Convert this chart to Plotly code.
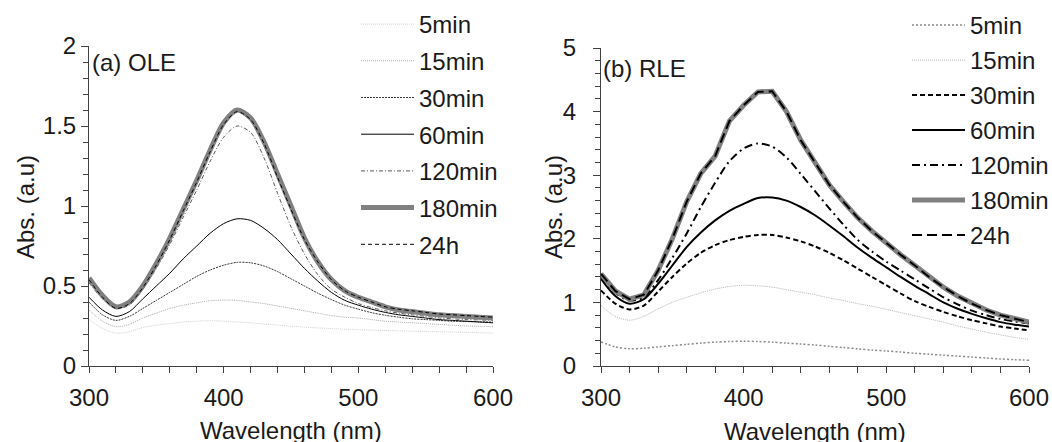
import plotly.graph_objects as go

# ---------------- data ----------------
wavelength = list(range(300, 601, 10))
series_names = ["5min", "15min", "30min", "60min", "120min", "180min", "24h"]

# (a) OLE
ole_5min = [0.29, 0.235, 0.205, 0.215, 0.24, 0.255, 0.265, 0.275, 0.28, 0.283, 0.28, 0.275, 0.27, 0.262,
            0.255, 0.248, 0.243, 0.238, 0.234, 0.23, 0.227, 0.224, 0.222, 0.22, 0.218, 0.216, 0.214, 0.212,
            0.21, 0.208, 0.205]
ole_15min = [0.35, 0.28, 0.246, 0.26, 0.30, 0.33, 0.36, 0.38, 0.395, 0.408, 0.412, 0.41, 0.40, 0.39,
             0.375, 0.36, 0.345, 0.33, 0.315, 0.305, 0.30, 0.29, 0.28, 0.275, 0.27, 0.265, 0.26, 0.255,
             0.25, 0.248, 0.246]
ole_30min = [0.40, 0.32, 0.285, 0.31, 0.36, 0.41, 0.46, 0.51, 0.56, 0.60, 0.63, 0.648, 0.645, 0.625,
             0.59, 0.545, 0.50, 0.455, 0.415, 0.38, 0.355, 0.333, 0.317, 0.305, 0.295, 0.29, 0.285, 0.28,
             0.278, 0.276, 0.275]
ole_60min = [0.43, 0.35, 0.31, 0.34, 0.42, 0.50, 0.58, 0.67, 0.75, 0.83, 0.89, 0.92, 0.91, 0.86,
             0.79, 0.70, 0.61, 0.53, 0.46, 0.41, 0.38, 0.355, 0.335, 0.32, 0.31, 0.30, 0.29, 0.285,
             0.28, 0.275, 0.27]
ole_120min = [0.52, 0.42, 0.36, 0.38, 0.48, 0.61, 0.76, 0.93, 1.10, 1.28, 1.43, 1.50, 1.46, 1.30,
              1.08, 0.87, 0.70, 0.57, 0.48, 0.43, 0.39, 0.365, 0.345, 0.33, 0.32, 0.31, 0.30, 0.295,
              0.29, 0.288, 0.285]
ole_180min = [0.55, 0.44, 0.37, 0.40, 0.50, 0.64, 0.80, 0.98, 1.16, 1.35, 1.52, 1.60, 1.55, 1.40,
              1.20, 1.00, 0.80, 0.65, 0.54, 0.47, 0.43, 0.40, 0.37, 0.35, 0.34, 0.33, 0.32, 0.315,
              0.31, 0.305, 0.30]
ole_24h = [0.54, 0.43, 0.36, 0.39, 0.49, 0.63, 0.79, 0.97, 1.15, 1.34, 1.51, 1.59, 1.54, 1.39,
           1.18, 0.98, 0.79, 0.65, 0.54, 0.47, 0.43, 0.40, 0.37, 0.355, 0.345, 0.335, 0.325, 0.32,
           0.315, 0.31, 0.305]

# (b) RLE
rle_5min = [0.38, 0.30, 0.27, 0.28, 0.30, 0.32, 0.34, 0.36, 0.375, 0.385, 0.39, 0.385, 0.375, 0.36,
            0.345, 0.33, 0.31, 0.29, 0.27, 0.25, 0.235, 0.22, 0.20, 0.185, 0.17, 0.155, 0.14, 0.125,
            0.11, 0.10, 0.09]
rle_15min = [0.95, 0.78, 0.72, 0.78, 0.90, 1.00, 1.08, 1.15, 1.21, 1.25, 1.27, 1.26, 1.24, 1.20,
             1.16, 1.12, 1.07, 1.03, 0.98, 0.94, 0.89, 0.84, 0.79, 0.74, 0.69, 0.63, 0.58, 0.53,
             0.49, 0.45, 0.42]
rle_30min = [1.19, 0.98, 0.89, 0.95, 1.17, 1.40, 1.61, 1.78, 1.90, 1.98, 2.03, 2.06, 2.06, 2.02,
             1.96, 1.88, 1.78, 1.66, 1.53, 1.40, 1.27, 1.14, 1.02, 0.93, 0.85, 0.78, 0.72, 0.67,
             0.62, 0.59, 0.56]
rle_60min = [1.37, 1.10, 0.98, 1.05, 1.29, 1.58, 1.87, 2.10, 2.29, 2.44, 2.55, 2.64, 2.65, 2.60,
             2.50, 2.37, 2.21, 2.04, 1.86, 1.70, 1.55, 1.40, 1.26, 1.13, 1.00, 0.90, 0.82, 0.75,
             0.69, 0.65, 0.62]
rle_120min = [1.40, 1.15, 1.03, 1.08, 1.35, 1.70, 2.08, 2.50, 2.88, 3.22, 3.42, 3.50, 3.45, 3.28,
              3.02, 2.75, 2.48, 2.22, 1.98, 1.80, 1.64, 1.50, 1.36, 1.22, 1.08, 0.97, 0.87, 0.80,
              0.74, 0.70, 0.67]
rle_180min = [1.45, 1.18, 1.05, 1.12, 1.50, 2.00, 2.58, 3.03, 3.30, 3.85, 4.10, 4.31, 4.32, 4.00,
              3.55, 3.20, 2.85, 2.58, 2.33, 2.12, 1.93, 1.75, 1.58, 1.40, 1.24, 1.10, 0.98, 0.88,
              0.80, 0.74, 0.69]
rle_24h = [1.45, 1.18, 1.05, 1.12, 1.50, 2.00, 2.58, 3.03, 3.30, 3.85, 4.10, 4.31, 4.32, 4.00,
           3.55, 3.20, 2.85, 2.58, 2.33, 2.12, 1.93, 1.75, 1.58, 1.40, 1.24, 1.10, 0.98, 0.88,
           0.80, 0.74, 0.69]

ole_values = [ole_5min, ole_15min, ole_30min, ole_60min, ole_120min, ole_180min, ole_24h]
rle_values = [rle_5min, rle_15min, rle_30min, rle_60min, rle_120min, rle_180min, rle_24h]

# ---------------- styles ----------------
FONT = "Liberation Sans, Arial, sans-serif"
ole_styles = [
    dict(color="#d2d2d2", width=1, dash="1px,1px"),
    dict(color="#ababab", width=1, dash="1px,1px"),
    dict(color="#3a3a3a", width=1, dash="2px,1px"),
    dict(color="#000000", width=1, dash="solid"),
    dict(color="#5a5a5a", width=1, dash="4px,2px,1px,2px"),
    dict(color="#808080", width=5, dash="solid"),
    dict(color="#000000", width=1, dash="4px,3px"),
]
rle_styles = [
    dict(color="#8c8c8c", width=1.5, dash="2px,2px"),
    dict(color="#b8b8b8", width=1, dash="1px,1px"),
    dict(color="#000000", width=2, dash="5px,3px"),
    dict(color="#000000", width=2, dash="solid"),
    dict(color="#000000", width=2, dash="8px,4px,2px,4px"),
    dict(color="#808080", width=5, dash="solid"),
    dict(color="#000000", width=2, dash="10px,5px"),
]

W, H = 1052, 442
fig = go.Figure()

for i, name in enumerate(series_names):
    fig.add_trace(go.Scatter(
        x=wavelength, y=ole_values[i], mode="lines", name=name,
        line=dict(shape="spline", smoothing=0.8, **ole_styles[i]),
        xaxis="x", yaxis="y", legend="legend", legendgroup="a" + name,
    ))
for i, name in enumerate(series_names):
    jag = name in ("180min", "24h")
    fig.add_trace(go.Scatter(
        x=wavelength, y=rle_values[i], mode="lines", name=name,
        line=dict(shape="linear" if jag else "spline", **({} if jag else {"smoothing": 0.8}), **rle_styles[i]),
        xaxis="x2", yaxis="y2", legend="legend2", legendgroup="b" + name,
    ))

axcol = "#404040"
txtcol = "#1a1a1a"

def px_x(p):
    return p / W

def px_y(p):
    return 1 - p / H

xcommon = dict(range=[300, 600], tick0=300, dtick=100, showline=True, linecolor=axcol, linewidth=1,
               ticks="outside", ticklen=6, tickwidth=1, tickcolor=axcol, showgrid=False, zeroline=False,
               automargin=False,
               tickfont=dict(size=24, family=FONT, color=txtcol), ticklabelstandoff=4,
               minor=dict(dtick=20, tick0=300, ticks="outside", ticklen=6, tickwidth=1, tickcolor=axcol,
                          showgrid=False))

fig.update_layout(
    width=W, height=H, autosize=False,
    margin=dict(l=0, r=0, t=0, b=0, autoexpand=False),
    paper_bgcolor="white", plot_bgcolor="white",
    font=dict(family=FONT, size=24, color=txtcol),
    xaxis=dict(domain=[px_x(89), px_x(493)], anchor="y", **xcommon),
    xaxis2=dict(domain=[px_x(601), px_x(1029)], anchor="y2", **xcommon),
    yaxis=dict(domain=[px_y(366), px_y(46)], anchor="x", range=[0, 2], tick0=0, dtick=0.5,
               showline=True, linecolor=axcol, linewidth=1, ticks="outside", ticklen=7, tickwidth=1,
               tickcolor=axcol, showgrid=False, zeroline=False, automargin=False,
               tickfont=dict(size=24, family=FONT, color=txtcol),
               minor=dict(dtick=0.1, tick0=0, ticks="outside", ticklen=5, tickwidth=1, tickcolor=axcol,
                          showgrid=False)),
    yaxis2=dict(domain=[px_y(366), px_y(48)], anchor="x2", range=[0, 5], tick0=0, dtick=1,
                showline=True, linecolor=axcol, linewidth=1, ticks="outside", ticklen=7, tickwidth=1,
                tickcolor=axcol, showgrid=False, zeroline=False, ticklabelstandoff=12, automargin=False,
                tickfont=dict(size=24, family=FONT, color=txtcol),
                minor=dict(dtick=0.2, tick0=0, ticks="outside", ticklen=5, tickwidth=1, tickcolor=axcol,
                           showgrid=False)),
    legend=dict(x=px_x(356), y=px_y(2), xanchor="left", yanchor="top", bgcolor="rgba(0,0,0,0)",
                font=dict(size=24, family=FONT, color=txtcol), itemwidth=53, traceorder="grouped",
                tracegroupgap=2.5, borderwidth=0),
    legend2=dict(x=px_x(907), y=px_y(3), xanchor="left", yanchor="top", bgcolor="rgba(0,0,0,0)",
                 font=dict(size=24, family=FONT, color=txtcol), itemwidth=53, traceorder="grouped",
                 tracegroupgap=0.8, borderwidth=0),
    showlegend=True,
)

ann_font = dict(size=24, family=FONT, color=txtcol)
fig.add_annotation(text="(a) OLE", x=px_x(90), y=px_y(63), xref="paper", yref="paper",
                   xanchor="left", yanchor="middle", showarrow=False, font=ann_font)
fig.add_annotation(text="(b) RLE", x=px_x(601), y=px_y(68), xref="paper", yref="paper",
                   xanchor="left", yanchor="middle", showarrow=False, font=ann_font)
fig.add_annotation(text="Abs. (a.u)", x=px_x(25), y=px_y(207), xref="paper", yref="paper",
                   textangle=-90, xanchor="center", yanchor="middle", showarrow=False, font=ann_font)
fig.add_annotation(text="Abs. (a.u)", x=px_x(553), y=px_y(207), xref="paper", yref="paper",
                   textangle=-90, xanchor="center", yanchor="middle", showarrow=False, font=ann_font)
fig.add_annotation(text="Wavelength (nm)", x=px_x(291), y=px_y(430), xref="paper", yref="paper",
                   xanchor="center", yanchor="middle", showarrow=False, font=ann_font)
fig.add_annotation(text="Wavelength (nm)", x=px_x(815), y=px_y(431), xref="paper", yref="paper",
                   xanchor="center", yanchor="middle", showarrow=False, font=ann_font)

fig.write_html("out.html", config={"displayModeBar": False},
               post_script="document.body.style.margin='0px';")
